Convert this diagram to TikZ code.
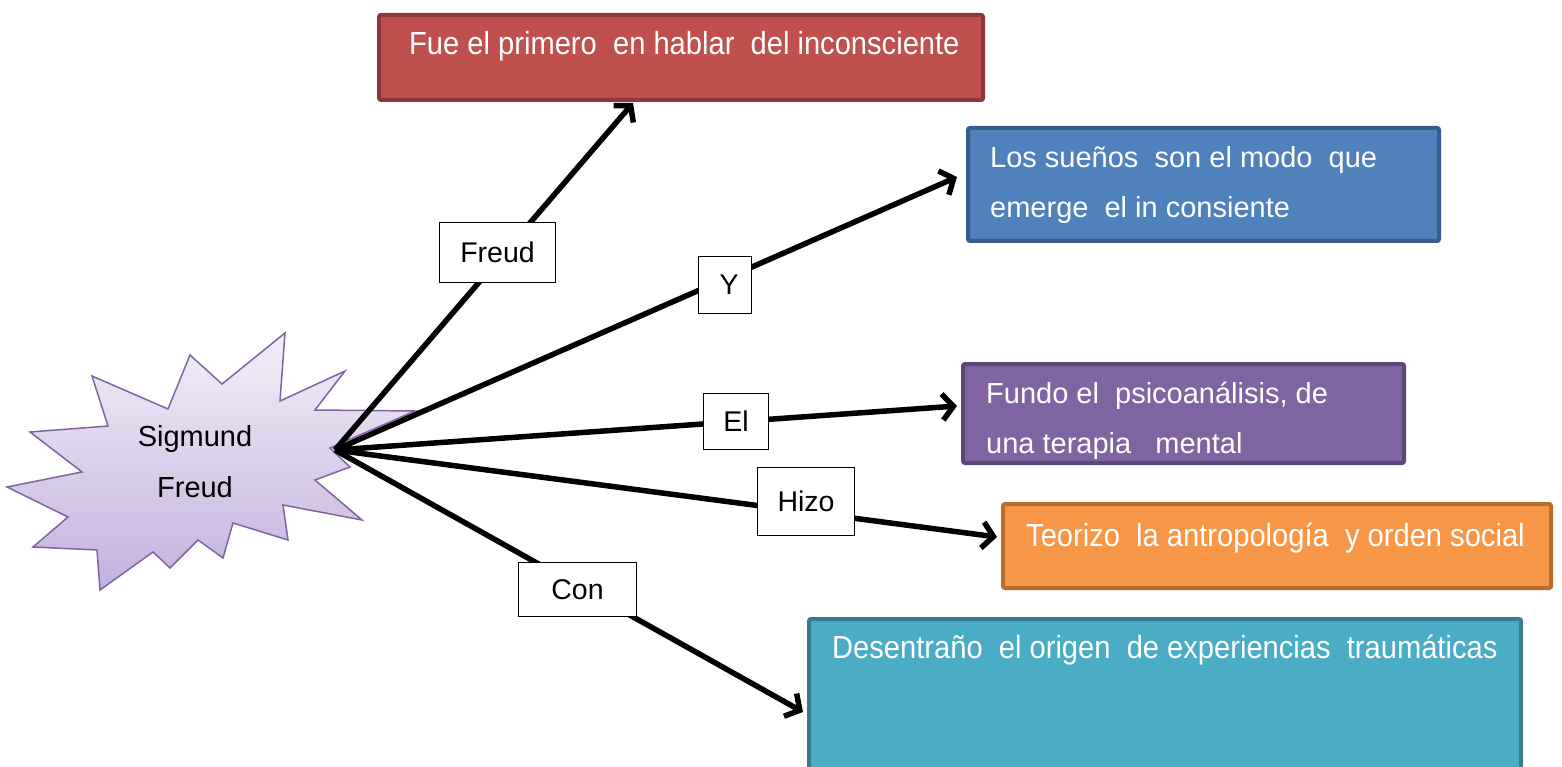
\documentclass[tikz,border=0pt]{standalone}
\usepackage{fontspec}
\setmainfont{Liberation Sans}
\newfontfamily\narrowfont[FakeStretch=0.91]{Liberation Sans}
\usetikzlibrary{arrows.meta}
\definecolor{redF}{HTML}{C0504D}\definecolor{redD}{HTML}{8C3836}
\definecolor{blueF}{HTML}{4F81BD}\definecolor{blueD}{HTML}{385D8A}
\definecolor{purF}{HTML}{8064A2}\definecolor{purD}{HTML}{5C4776}
\definecolor{oraF}{HTML}{F79646}\definecolor{oraD}{HTML}{B66D31}
\definecolor{teaF}{HTML}{4BACC6}\definecolor{teaD}{HTML}{357D91}
\definecolor{starTop}{HTML}{F3EFF9}\definecolor{starBot}{HTML}{C3B1DD}
\definecolor{starD}{HTML}{8064A2}
\begin{document}
\begin{tikzpicture}[x=1pt,y=-1pt,
  cbox/.style={draw, line width=4pt, rounded corners=2pt, inner sep=0pt},
  btext/.style={inner sep=0pt, text=white, font=\fontsize{29}{50}\selectfont},
  ntext/.style={inner sep=0pt, text=white, font=\narrowfont\fontsize{32}{50}\selectfont},
  lbl/.style={draw=black, line width=1.3pt, fill=white, inner sep=0pt, font=\fontsize{28.5}{30}\selectfont},
  conn/.style={line width=5.5pt, -{Straight Barb[length=11pt,width=26pt]}}]
\clip (0,0) rectangle (1562,767);
\fill[white] (0,0) rectangle (1562,767);

% star
\shadedraw[top color=starTop, bottom color=starBot, draw=starD, line width=1.5pt]
 (7,487) -- (82,472) -- (30,432) -- (108,426) -- (92,376) -- (168,409) -- (190,355)
 -- (222,384) -- (285,333) -- (280,401) -- (345,371) -- (315,410) -- (415,411)
 -- (330,448) -- (350,467) -- (315,480) -- (362,520) -- (283,505) -- (288,540)
 -- (233,523) -- (223,558) -- (198,540) -- (170,568) -- (153,552) -- (100,590)
 -- (97,550) -- (33,547) -- (68,517) -- cycle;
\node[inner sep=0pt, align=center, font=\fontsize{29}{51}\selectfont] (sf) at (195,462) {Sigmund\\Freud};

% boxes
\node[cbox, fill=redF, draw=redD, minimum width=604, minimum height=85] (red) at (681,57.5) {};
\node[ntext, anchor=base west] (redT) at (409,55) {Fue el primero\ \ en hablar\ \ del inconsciente};

\node[cbox, fill=blueF, draw=blueD, minimum width=471, minimum height=113] (blue) at (1203.5,184.5) {};
\node[btext, anchor=base west] (blueT1) at (990,168) {Los sueños\ \ son el modo\ \ que};
\node[btext, anchor=base west] (blueT2) at (990,218) {emerge\ \ el in consiente};

\node[cbox, fill=purF, draw=purD, minimum width=441, minimum height=99] (pur) at (1183.5,413.5) {};
\begin{scope}
\clip (961,362) rectangle (1406,459);
\node[btext, anchor=base west] (purT1) at (986,403) {Fundo el\ \ psicoanálisis, de};
\node[btext, anchor=base west] (purT2) at (986,453) {una terapia\ \ \ mental};
\end{scope}

\node[cbox, fill=oraF, draw=oraD, minimum width=548, minimum height=84] (ora) at (1277,546) {};
\node[ntext, anchor=base west] (oraT) at (1026,546) {Teorizo\ \ la antropología\ \ y orden social};

\node[cbox, fill=teaF, draw=teaD, minimum width=712, minimum height=200] (tea) at (1165,719) {};
\node[ntext, anchor=base west] (teaT) at (832,658) {Desentraño\ \ el origen\ \ de experiencias\ \ traumáticas};

% connectors
\coordinate (hub) at (335,450);
\coordinate (tipR) at (633,103);
\coordinate (tipB) at (957,177);
\coordinate (tipP) at (957,406);
\coordinate (tipO) at (997,537);
\coordinate (tipT) at (803,712);
\draw[conn] (hub) -- (tipR);
\draw[conn] (hub) -- (tipB);
\draw[conn] (hub) -- (tipP);
\draw[conn] (hub) -- (tipO);
\draw[conn] (hub) -- (tipT);

% labels
\node[lbl, minimum width=116, minimum height=60] (lFreud) at (497.5,252.5) {Freud};
\node[lbl, minimum width=53, minimum height=57] (lY) at (725,285) {\hspace{8pt}Y};
\node[lbl, minimum width=65, minimum height=56] (lEl) at (736,421.5) {El};
\node[lbl, minimum width=97, minimum height=68] (lHizo) at (806,501.5) {Hizo};
\node[lbl, minimum width=118, minimum height=54] (lCon) at (577.5,589.5) {Con\hspace{27pt}};
\end{tikzpicture}
\end{document}
